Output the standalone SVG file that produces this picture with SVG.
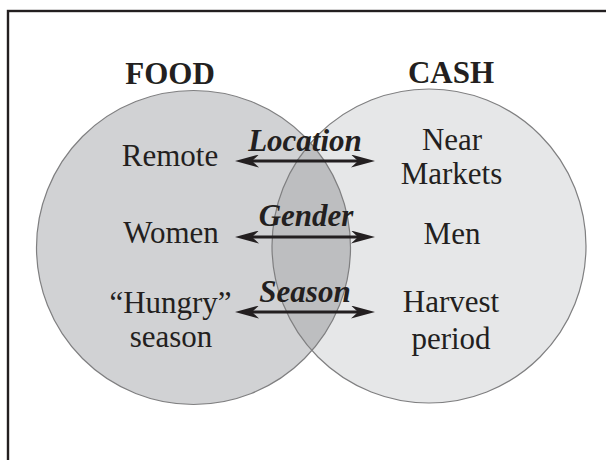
<svg xmlns="http://www.w3.org/2000/svg" width="606" height="460" viewBox="0 0 606 460">
  <style>
    .title { font-family: "Liberation Serif", "Times New Roman", serif; font-weight: bold; font-size: 31px; fill: #231f20; text-anchor: middle; }
    .item { font-family: "Liberation Serif", "Times New Roman", serif; font-size: 31px; fill: #231f20; text-anchor: middle; }
    .rel { font-family: "Liberation Serif", "Times New Roman", serif; font-weight: bold; font-style: italic; font-size: 31px; fill: #231f20; text-anchor: middle; }
    .edge { stroke: #231f20; stroke-width: 2.8; fill: none; marker-start: url(#head); marker-end: url(#head); }
    .outline { fill: none; stroke: #7f7f80; stroke-width: 1.2; }
  </style>
  <defs>
    <marker id="head" markerUnits="userSpaceOnUse" viewBox="0 0 24 13" markerWidth="24" markerHeight="13" refX="7" refY="6.5" orient="auto-start-reverse">
      <path d="M0,0 L24,6.5 L0,13 L7,6.5 Z" fill="#231f20"/>
    </marker>
    <clipPath id="leftClip">
      <circle cx="193.5" cy="247.5" r="157"/>
    </clipPath>
  </defs>
  <rect x="0" y="0" width="606" height="460" fill="#ffffff"/>
  <rect x="8" y="11" width="620" height="470" fill="none" stroke="#231f20" stroke-width="2.4"/>

  <g id="food">
    <circle cx="193.5" cy="247.5" r="157" fill="#d1d2d4"/>
    <text class="title" x="170" y="84">FOOD</text>
  </g>
  <g id="cash">
    <circle cx="429" cy="246" r="157" fill="#e6e7e8"/>
    <text class="title" x="451" y="83">CASH</text>
  </g>
  <g id="overlap">
    <circle cx="429" cy="246" r="157" fill="#bdbec0" clip-path="url(#leftClip)"/>
    <circle class="outline" cx="193.5" cy="247.5" r="157"/>
    <circle class="outline" cx="429" cy="246" r="157"/>
  </g>

  <g id="remote"><text class="item" x="170" y="166">Remote</text></g>
  <g id="women"><text class="item" x="171" y="243">Women</text></g>
  <g id="hungry">
    <text class="item" x="170.5" y="313">“Hungry”</text>
    <text class="item" x="171" y="347">season</text>
  </g>
  <g id="near">
    <text class="item" x="452" y="150">Near</text>
    <text class="item" x="451.5" y="184">Markets</text>
  </g>
  <g id="men"><text class="item" x="452" y="244">Men</text></g>
  <g id="harvest">
    <text class="item" x="451" y="312">Harvest</text>
    <text class="item" x="451" y="349">period</text>
  </g>

  <g id="connectors">
    <line class="edge" x1="252" y1="161" x2="358" y2="161"/>
    <text class="rel" x="305" y="151">Location</text>
    <line class="edge" x1="252" y1="237" x2="358" y2="237"/>
    <text class="rel" x="306" y="226">Gender</text>
    <line class="edge" x1="252" y1="312" x2="358" y2="312"/>
    <text class="rel" x="305" y="302">Season</text>
  </g>
</svg>
